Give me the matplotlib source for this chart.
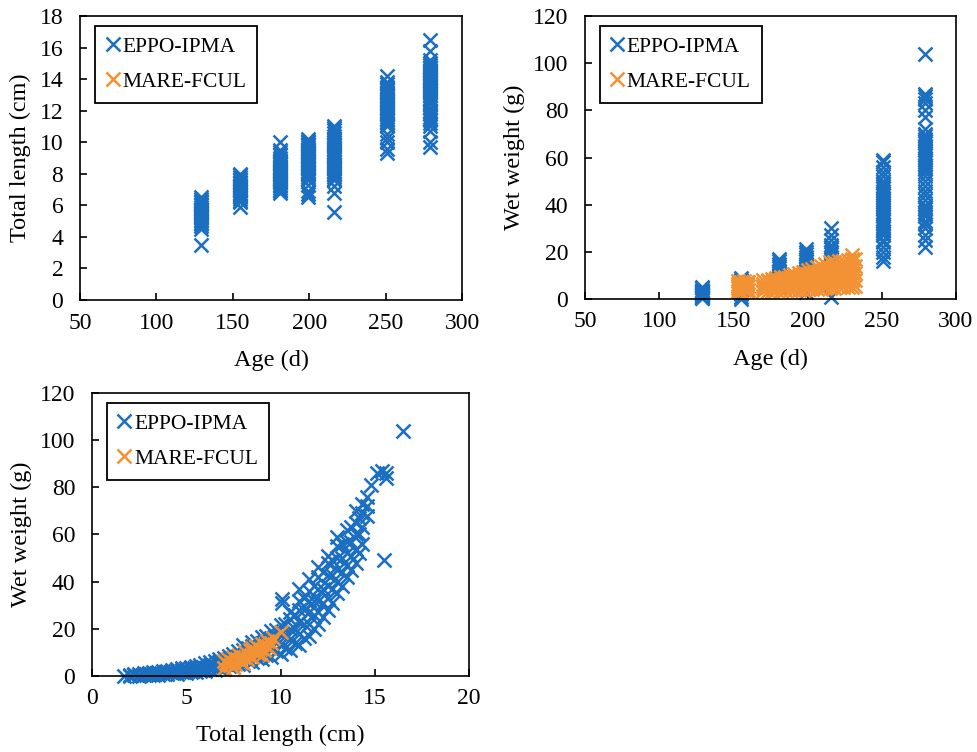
import matplotlib
matplotlib.use("Agg")
import matplotlib.pyplot as plt

plt.rcParams['font.family'] = ['Liberation Serif', 'DejaVu Serif']

blue = '#1b6fc1'
orange = '#f39234'

# sampling ages (d)
ages = [129, 155, 181, 199, 216, 251, 279]

# total length (cm) per age, EPPO-IPMA
tl_by_age = [
    [3.5, 4.5, 4.7, 4.8, 4.9, 5.0, 5.1, 5.2, 5.3, 5.4, 5.5, 5.6, 5.7, 5.8, 5.9, 6.0, 6.1, 6.2, 6.3, 6.4, 6.5],
    [5.9, 6.2, 6.3, 6.4, 6.5, 6.6, 6.7, 6.8, 6.9, 7.0, 7.1, 7.2, 7.3, 7.4, 7.5, 7.6, 7.7, 7.8, 7.9, 8.0],
    [6.8, 6.9, 7.0, 7.1, 7.2, 7.3, 7.4, 7.5, 7.6, 7.7, 7.8, 7.9, 8.0, 8.1, 8.2, 8.3, 8.4, 8.5, 8.6, 8.7,
     8.8, 8.9, 9.0, 9.2, 9.4, 9.5, 10.0],
    [6.5, 6.7, 6.9, 7.3, 7.6, 7.7, 7.8, 7.9, 8.0, 8.1, 8.2, 8.3, 8.4, 8.5, 8.6, 8.7, 8.8, 8.9, 9.0, 9.1,
     9.2, 9.3, 9.4, 9.5, 9.6, 9.7, 9.8, 9.9, 10.0, 10.1, 10.2],
    [5.6, 6.8, 7.2, 7.6, 7.7, 7.8, 7.9, 8.0, 8.1, 8.2, 8.3, 8.4, 8.5, 8.6, 8.8, 9.0, 9.1, 9.2, 9.3, 9.4,
     9.5, 9.6, 9.7, 9.8, 9.9, 10.0, 10.2, 10.4, 10.6, 10.8, 10.9, 11.0],
    [9.3, 9.6, 10.0, 10.3, 10.5, 11.0, 11.1, 11.2, 11.4, 11.5, 11.6, 11.7, 11.8, 11.9, 12.0, 12.1, 12.2,
     12.3, 12.4, 12.5, 12.6, 12.7, 12.8, 12.9, 13.0, 13.1, 13.2, 13.3, 13.4, 13.5, 13.7, 13.8, 14.2],
    [9.7, 10.0, 10.7, 11.0, 11.2, 11.4, 11.5, 11.6, 11.8, 11.9, 12.0, 12.2, 12.4, 12.5, 12.7, 12.8, 13.0,
     13.1, 13.2, 13.3, 13.4, 13.5, 13.6, 13.7, 13.8, 13.9, 14.0, 14.1, 14.2, 14.3, 14.4, 14.5, 14.6,
     14.7, 14.8, 14.9, 15.0, 15.2, 15.8, 16.5],
]

# wet weight (g) per age, EPPO-IPMA
ww_by_age = [
    [0.3, 0.5, 0.8, 1.0, 1.2, 1.5, 1.8, 2.0, 2.3, 2.5, 2.8, 3.0, 3.3, 3.6, 4.0, 4.5, 5.0],
    [0.2, 1.0, 2.0, 3.0, 4.0, 4.5, 5.0, 5.5, 6.0, 6.5, 7.0, 8.0, 9.0],
    [5.0, 6.0, 7.0, 8.0, 9.0, 10.0, 11.0, 12.0, 13.0, 14.0, 15.0, 16.0, 17.0],
    [3.0, 5.0, 7.0, 8.0, 9.0, 10.0, 11.0, 12.0, 13.0, 14.0, 15.0, 16.0, 17.0, 18.0, 19.0, 20.0, 21.0],
    [0.8, 8.0, 10.0, 12.0, 14.0, 15.0, 16.0, 17.0, 18.0, 19.0, 20.0, 21.0, 22.0, 23.0, 25.0, 27.0, 30.0],
    [16, 18, 20, 22, 24, 25, 27, 28, 29, 30, 31, 32, 33, 34, 35, 36, 37, 38, 39, 40, 41, 42, 43, 44,
     45, 46, 47, 48, 49, 50, 52, 54, 56, 58, 59],
    [22, 25, 27, 30, 32, 33, 35, 36, 37, 38, 39, 40, 42, 44, 46, 48, 50, 52, 54, 55, 56, 57, 58, 59,
     60, 61, 62, 63, 64, 65, 66, 67, 68, 69, 70, 72, 77, 80, 83, 85, 86, 87, 104],
]

# MARE-FCUL age (d) and wet weight (g)
orange_days = [153, 155, 157, 159, 160, 170, 173, 176, 179, 182, 185, 188, 191, 194, 197, 200,
               203, 206, 209, 212, 215, 218, 221, 224, 227, 230, 232]
orange_wts = [
    [3.5, 4.5, 5.5, 6.5, 7.5], [3.5, 5.0, 6.0, 7.0], [3.8, 4.8, 6.2, 7.5], [3.5, 5.0, 6.5, 7.3],
    [4.0, 5.5, 7.0], [3.5, 4.5, 5.5, 6.5, 8.0], [3.6, 5.0, 6.0, 7.5, 8.2], [3.5, 4.8, 6.2, 7.2, 8.5],
    [3.7, 5.0, 6.5, 8.0, 8.8], [3.6, 5.2, 6.8, 8.0, 9.2], [3.8, 5.4, 7.0, 8.5, 9.5],
    [3.7, 5.5, 7.2, 8.8, 10.0], [3.9, 5.6, 7.5, 9.2, 10.5], [4.0, 5.8, 7.8, 9.6, 11.0],
    [4.0, 6.0, 8.0, 10.0, 11.5], [4.2, 6.2, 8.4, 10.5, 12.2], [4.2, 6.4, 8.8, 11.0, 12.8],
    [4.4, 6.6, 9.0, 11.5, 13.5], [4.4, 6.8, 9.4, 12.0, 14.2], [4.6, 7.0, 9.8, 12.6, 15.0],
    [4.6, 7.2, 10.0, 13.0, 15.8], [4.8, 7.4, 10.2, 13.2, 15.6], [5.0, 7.6, 10.4, 13.4, 16.0],
    [5.0, 7.8, 10.6, 13.6, 16.2], [5.2, 8.0, 10.8, 13.8, 16.4], [5.2, 8.0, 11.0, 14.0, 16.8, 18.5],
    [5.4, 8.2, 11.0, 14.0, 17.0],
]

# length-weight, EPPO-IPMA: total length (cm) and the wet weights (g) read at it
lw_tl = [1.7, 2.0, 2.25, 2.5, 2.75, 3.0, 3.25, 3.5, 3.75, 4.0, 4.25, 4.5, 4.75, 5.0, 5.25, 5.5, 5.75,
         6.0, 6.25, 6.5, 6.75, 7.0, 7.25, 7.5, 7.75, 8.0, 8.25, 8.5, 8.75, 9.0, 9.25, 9.5, 9.75, 10.0,
         10.1, 10.25, 10.5, 10.75, 11.0, 11.25, 11.5, 11.75, 12.0, 12.25, 12.5, 12.75, 13.0, 13.25,
         13.5, 13.75, 14.0, 14.15, 14.3, 14.6, 14.8, 15.1, 15.4, 15.5, 15.6, 16.5]
lw_ww = [
    [0.1], [0.1, 0.6], [0.3, 0.9], [0.2, 0.8], [0.4, 1.1], [0.3, 1.0, 1.4], [0.6, 1.5],
    [0.5, 1.3, 1.8], [0.8, 1.9], [0.7, 1.5, 2.2], [1.2, 2.0, 2.6], [0.9, 1.9, 2.8], [1.5, 2.6, 3.2],
    [1.2, 2.3, 3.5], [1.8, 3.2, 4.0], [1.5, 2.9, 4.3], [2.3, 3.9, 4.8], [2.0, 3.5, 5.3],
    [2.9, 4.8, 6.0], [2.4, 4.3, 6.5], [3.5, 5.9, 7.2], [3.0, 5.2, 7.8], [4.2, 7.0, 8.6],
    [3.8, 6.3, 9.3], [5.0, 8.5, 10.5], [4.8, 7.6, 11.0, 13.0], [6.2, 10.0, 12.0],
    [5.8, 9.0, 12.5, 14.5], [7.5, 11.5, 15.0], [7.0, 10.5, 14.0, 16.5], [9.0, 13.0, 17.0],
    [8.0, 12.0, 16.0, 19.0], [10.5, 15.0, 19.5], [9.5, 13.5, 18.0, 21.5], [31.0, 32.5],
    [12.0, 17.0, 22.0], [11.0, 15.5, 20.0, 24.0, 27.0], [14.0, 20.0, 26.0],
    [13.0, 18.0, 23.0, 28.0, 32.0, 37.0], [16.0, 22.0, 28.0, 33.0],
    [17.0, 22.0, 27.0, 32.0, 36.0, 41.0], [20.0, 26.0, 32.0, 38.0],
    [22.0, 27.0, 32.0, 37.0, 42.0, 46.0], [25.0, 31.0, 37.0, 44.0],
    [28.0, 33.0, 38.0, 43.0, 48.0, 51.0], [31.0, 37.0, 43.0, 49.0],
    [35.0, 40.0, 45.0, 50.0, 55.0, 59.0], [38.0, 44.0, 50.0, 56.0],
    [42.0, 47.0, 52.0, 57.0, 62.0], [45.0, 51.0, 57.0, 63.0], [48.0, 54.0, 60.0, 65.0, 70.0],
    [52.0, 60.0, 67.0], [56.0, 63.0, 69.0, 73.0], [68.0, 72.0, 76.0], [81.0], [86.0], [87.0],
    [49.0], [84.0, 86.0], [104.0],
]

# length-weight, MARE-FCUL
lw_tl_o = [7.0, 7.1, 7.2, 7.3, 7.4, 7.5, 7.6, 7.7, 7.8, 7.9, 8.0, 8.1, 8.2, 8.3, 8.4, 8.5, 8.6, 8.7,
           8.8, 8.9, 9.0, 9.1, 9.2, 9.3, 9.5, 9.6, 10.0, 7.0, 7.5, 8.0, 8.5, 9.0, 9.4]
lw_ww_o = [3.5, 5.5, 7.0, 4.5, 6.0, 8.0, 5.0, 7.0, 9.0, 6.0, 8.0, 10.0, 7.0, 9.0, 11.0, 8.0, 10.5, 12.5,
           9.5, 11.5, 13.5, 11.0, 13.0, 15.0, 14.0, 16.0, 18.5, 6.5, 4.0, 5.5, 12.0, 9.0, 12.0]

age_x = [a for a, v in zip(ages, tl_by_age) for _ in v]
tl_y = [t for v in tl_by_age for t in v]
age_x2 = [a for a, v in zip(ages, ww_by_age) for _ in v]
ww_y = [w for v in ww_by_age for w in v]
o_x = [d for d, v in zip(orange_days, orange_wts) for _ in v]
o_y = [w for v in orange_wts for w in v]
lw_x = [t for t, v in zip(lw_tl, lw_ww) for _ in v]
lw_y = [w for v in lw_ww for w in v]

mk = dict(marker='x', linestyle='none', markersize=10, markeredgewidth=1.8)

fig = plt.figure(figsize=(9.78, 7.52), dpi=100)
ax1 = fig.add_axes([0.0818, 0.601, 0.3906, 0.3777])
ax2 = fig.add_axes([0.5982, 0.6024, 0.3793, 0.3763])
ax3 = fig.add_axes([0.0941, 0.1011, 0.3855, 0.3763])


def style(ax):
    for s in ax.spines.values():
        s.set_linewidth(1.2)
    ax.tick_params(direction='in', length=5, width=1.2, labelsize=17,
                   top=False, right=False)
    ax.tick_params(axis='x', pad=9)
    ax.tick_params(axis='y', pad=12)


def add_legend(ax):
    leg = ax.legend(loc='upper left', bbox_to_anchor=(0.04, 0.965), borderaxespad=0,
                    fontsize=15.5, handlelength=0.6, handletextpad=0.15, borderpad=0.5,
                    labelspacing=0.7, fancybox=False, edgecolor='black', framealpha=1)
    leg.get_frame().set_linewidth(1.3)


# panel 1: age vs total length
ax1.plot(age_x, tl_y, color=blue, label='EPPO-IPMA', **mk)
ax1.plot([], [], color=orange, label='MARE-FCUL', **mk)
ax1.set_xlim(50, 300)
ax1.set_ylim(0, 18)
ax1.set_yticks(range(0, 19, 2))
ax1.set_xlabel('Age (d)', fontsize=17.5, labelpad=12)
ax1.set_ylabel('Total length (cm)', fontsize=17.5, labelpad=6)
style(ax1)
add_legend(ax1)

# panel 2: age vs wet weight
ax2.plot(age_x2, ww_y, color=blue, label='EPPO-IPMA', **mk)
ax2.plot(o_x, o_y, color=orange, label='MARE-FCUL', **mk)
ax2.set_xlim(50, 300)
ax2.set_ylim(0, 120)
ax2.set_yticks(range(0, 121, 20))
ax2.set_xlabel('Age (d)', fontsize=17.5, labelpad=12)
ax2.set_ylabel('Wet weight (g)', fontsize=17.5, labelpad=6)
style(ax2)
add_legend(ax2)

# panel 3: total length vs wet weight
ax3.plot(lw_x, lw_y, color=blue, label='EPPO-IPMA', **mk)
ax3.plot(lw_tl_o, lw_ww_o, color=orange, label='MARE-FCUL', **mk)
ax3.set_xlim(0, 20)
ax3.set_ylim(0, 120)
ax3.set_yticks(range(0, 121, 20))
ax3.set_xticks(range(0, 21, 5))
ax3.set_xlabel('Total length (cm)', fontsize=17.5, labelpad=11)
ax3.set_ylabel('Wet weight (g)', fontsize=17.5, labelpad=6)
style(ax3)
add_legend(ax3)

for ax in (ax1, ax2, ax3):
    for ln in ax.lines:
        ln.set_clip_on(False)

fig.savefig('out.png', dpi=100)
